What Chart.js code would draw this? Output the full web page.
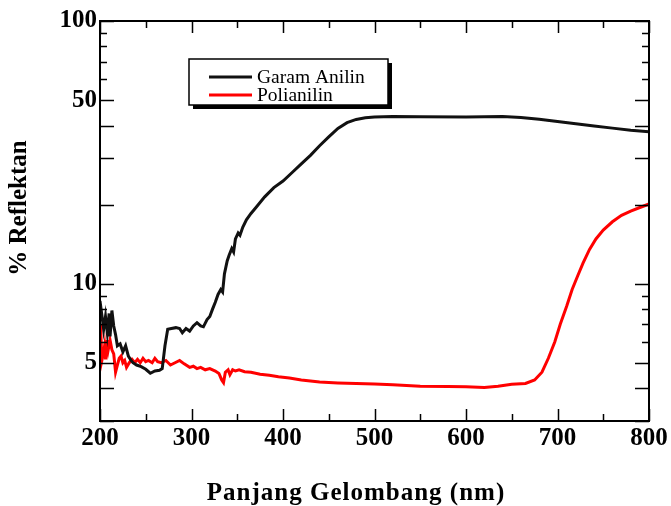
<!DOCTYPE html>
<html>
<head>
<meta charset="utf-8">
<script src="https://cdn.jsdelivr.net/npm/chart.js@4.4.0/dist/chart.umd.min.js"></script>
<style>
html,body{margin:0;padding:0;background:#fff;}
#wrap{width:671px;height:506px;position:relative;}
</style>
</head>
<body>
<div id="wrap"><canvas id="c" width="671" height="506"></canvas></div>
<script>
// ---- data ----
const garamX = [200,202,204,206,208,210,211,213,215,217,219,222,225,228,231,234,236,240,245,250,255,260,265,268,271,274,278,283,287,290,294,298,302,306,310,313,317,320,323,326,329,332,334,336,339,341,344,346,348,351,353,356,360,365,370,380,390,400,410,420,430,440,450,460,470,480,490,500,520,550,600,640,660,680,700,720,740,760,780,800];
const garamY = [8.6,7.6,6.7,7.5,6.5,7.7,6.3,7.9,6.9,6.4,5.8,5.9,5.5,5.8,5.3,5.1,5.0,4.9,4.83,4.72,4.56,4.65,4.68,4.75,5.8,6.7,6.75,6.8,6.75,6.5,6.75,6.6,6.9,7.1,6.9,6.85,7.3,7.5,8.0,8.5,9.1,9.5,9.3,10.9,12.2,12.8,13.6,13.2,14.8,15.6,15.3,16.4,17.5,18.5,19.4,21.4,23.2,24.6,26.5,28.6,30.8,33.5,36.2,39.0,41.0,42.2,42.8,43.1,43.3,43.2,43.1,43.3,42.9,42.3,41.4,40.6,39.8,39.1,38.4,37.9];
const polyX = [200,201,202,204,205,206,208,209,211,213,215,217,219,221,223,225,227,229,232,235,238,241,244,247,250,253,257,260,263,267,272,277,282,287,292,298,302,306,310,315,320,326,330,333,335,337,340,342,345,348,352,358,365,375,385,395,407,420,440,460,480,500,520,550,580,600,620,635,650,665,675,683,690,697,703,710,716,722,728,735,742,750,760,770,780,790,800];
const polyY = [7.0,6.4,5.1,5.5,5.8,5.15,6.1,5.6,6.1,5.6,5.4,4.6,4.9,5.2,5.3,5.0,5.1,4.8,5.0,5.15,5.0,5.15,5.0,5.2,5.05,5.1,5.0,5.2,5.05,5.0,5.1,4.9,5.0,5.1,4.95,4.8,4.85,4.75,4.8,4.7,4.75,4.65,4.55,4.3,4.2,4.6,4.7,4.5,4.7,4.65,4.7,4.62,4.6,4.52,4.48,4.42,4.37,4.3,4.22,4.19,4.17,4.15,4.12,4.07,4.06,4.05,4.02,4.07,4.14,4.17,4.3,4.6,5.2,6.0,7.0,8.2,9.5,10.7,12.0,13.5,14.8,16.0,17.2,18.2,18.9,19.5,20.1];
const seriesNames = ['Garam Anilin','Polianilin'];
const seriesColors = ['#111111','#ff0000'];
const xTickLabels = [200,300,400,500,600,700,800];
const xMinorTicks = [250,350,450,550,650,750];
const yTickLabels = [5,10,50,100];
const yMajorTicks = [3,4,5,10,20,30,40,50,100];
const yMinorTicks = [6,7,8,9,60,70,80,90];
const xTitle = 'Panjang Gelombang (nm)';
const yTitle = '% Reflektan';

const pts = (xs, ys) => xs.map((x,i)=>({x:x, y:ys[i]}));
const serif = "'Liberation Serif','Times New Roman',serif";

const framePlugin = {
  id:'frame',
  afterDatasetsDraw(chart){
    const ctx = chart.ctx, a = chart.chartArea;
    const xs = chart.scales.x, ys = chart.scales.y;
    ctx.save();
    ctx.strokeStyle = '#000';
    ctx.lineWidth = 2;
    ctx.strokeRect(a.left, a.top, a.right-a.left, a.bottom-a.top);
    ctx.lineWidth = 1.5;
    ctx.beginPath();
    const tickX = (vals, len) => vals.forEach(v=>{
      const p = Math.round(xs.getPixelForValue(v))+0.5;
      ctx.moveTo(p, a.bottom); ctx.lineTo(p, a.bottom-len);
      ctx.moveTo(p, a.top); ctx.lineTo(p, a.top+len);
    });
    const tickY = (vals, len) => vals.forEach(v=>{
      const p = Math.round(ys.getPixelForValue(v))+0.5;
      ctx.moveTo(a.left, p); ctx.lineTo(a.left+len, p);
      ctx.moveTo(a.right, p); ctx.lineTo(a.right-len, p);
    });
    tickX(xTickLabels, 12); tickX(xMinorTicks, 7);
    tickY(yMajorTicks, 14); tickY(yMinorTicks, 7);
    ctx.stroke();
    // axis titles
    ctx.fillStyle = '#000';
    ctx.textAlign = 'center';
    ctx.textBaseline = 'middle';
    ctx.save();
    ctx.font = "bold 25px " + serif;
    try { ctx.letterSpacing = '1px'; } catch(e) {}
    ctx.fillText(xTitle, 356, 494);
    ctx.restore();
    ctx.save();
    ctx.translate(20, 208);
    ctx.rotate(-Math.PI/2);
    ctx.font = "bold 25px " + serif;
    ctx.fillText(yTitle, 0, 0);
    ctx.restore();
    // legend
    const lx=189, ly=59, lw=199, lh=46;
    ctx.fillStyle='#000';
    ctx.fillRect(lx+4, ly+4, lw, lh);
    ctx.fillStyle='#fff';
    ctx.fillRect(lx, ly, lw, lh);
    ctx.strokeStyle='#000';
    ctx.lineWidth=1.5;
    ctx.strokeRect(lx, ly, lw, lh);
    ctx.font = "19.5px " + serif;
    ctx.textBaseline='middle';
    ctx.textAlign='left';
    chart.data.datasets.forEach((d,i)=>{
      const yy = 77 + i*18;
      ctx.strokeStyle = d.borderColor;
      ctx.lineWidth = 3;
      ctx.beginPath(); ctx.moveTo(209, yy); ctx.lineTo(252, yy); ctx.stroke();
      ctx.fillStyle='#000';
      ctx.fillText(d.label, 257, yy+1);
    });
    ctx.restore();
  }
};

new Chart(document.getElementById('c'), {
  type:'line',
  data:{
    datasets:[
      {label:seriesNames[0], data:pts(garamX,garamY), borderColor:seriesColors[0], borderWidth:3, pointRadius:0, tension:0, fill:false},
      {label:seriesNames[1], data:pts(polyX,polyY), borderColor:seriesColors[1], borderWidth:3, pointRadius:0, tension:0, fill:false}
    ]
  },
  options:{
    responsive:false,
    animation:false,
    events:[],
    layout:{padding:{left:0,right:22,top:21,bottom:0}},
    plugins:{legend:{display:false}, tooltip:{enabled:false}},
    scales:{
      x:{
        type:'linear', min:200, max:800,
        grid:{display:false, drawTicks:false}, border:{display:false},
        afterBuildTicks(s){ s.ticks = xTickLabels.map(v=>({value:v})); },
        afterFit(s){ s.height = 85; },
        ticks:{color:'#000', padding:3, autoSkip:false, maxRotation:0, font:{family:serif, size:25, weight:'bold'}},
        title:{display:false, text:xTitle}
      },
      y:{
        type:'logarithmic', min:3, max:100,
        grid:{display:false, drawTicks:false}, border:{display:false},
        afterBuildTicks(s){ s.ticks = yMajorTicks.concat(yMinorTicks).sort((a,b)=>a-b).map(v=>({value:v})); },
        afterFit(s){ s.width = 100; },
        ticks:{color:'#000', padding:3, autoSkip:false, font:{family:serif, size:25, weight:'bold'},
          callback:(v)=> yTickLabels.includes(v) ? String(v) : ''},
        title:{display:false, text:yTitle}
      }
    }
  },
  plugins:[framePlugin]
});
</script>
</body>
</html>
